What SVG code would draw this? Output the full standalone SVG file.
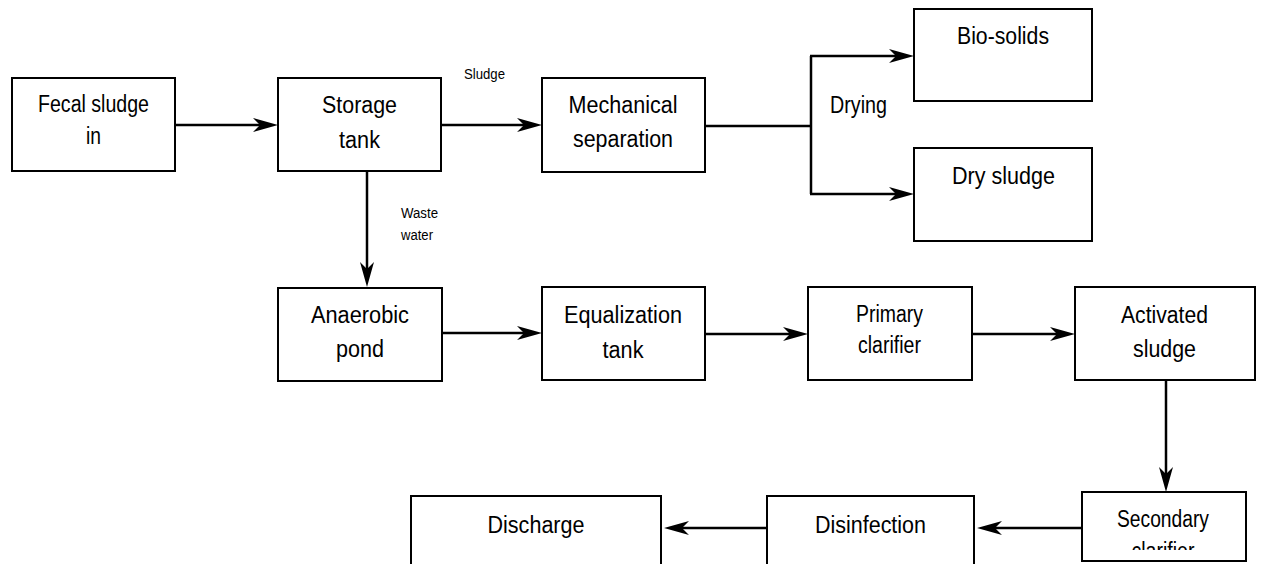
<svg xmlns="http://www.w3.org/2000/svg" width="1261" height="564" viewBox="0 0 1261 564">
  <style>
    .box { fill: #ffffff; stroke: #000000; stroke-width: 2; }
    .lbl { font-family: "Liberation Sans", Arial, sans-serif; font-size: 23px; fill: #000000; text-anchor: middle; }
    .sm { font-family: "Liberation Sans", Arial, sans-serif; font-size: 14px; fill: #000000; }
    .wire { fill: none; stroke: #000000; stroke-width: 2.5; }
  </style>
  <defs>
    <marker id="ah" viewBox="0 0 26 16" markerWidth="26" markerHeight="16" refX="15" refY="8" orient="auto" markerUnits="userSpaceOnUse">
      <path d="M0,1 L25,8 L0,15 L7,8 Z" fill="#000000"/>
    </marker>
    <clipPath id="clipSecondary">
      <rect x="1082" y="492" width="164" height="58"/>
    </clipPath>
  </defs>

  <rect width="1261" height="564" fill="#ffffff"/>

  <g id="connectors">
    <line class="wire" x1="175" y1="125" x2="268" y2="125" marker-end="url(#ah)"/>
    <line class="wire" x1="441" y1="125" x2="532" y2="125" marker-end="url(#ah)"/>
    <polyline class="wire" points="705,126 811,126"/>
    <line class="wire" x1="811" y1="56" x2="811" y2="194"/>
    <line class="wire" x1="810" y1="56" x2="904" y2="56" marker-end="url(#ah)"/>
    <line class="wire" x1="810" y1="194" x2="904" y2="194" marker-end="url(#ah)"/>
    <line class="wire" x1="367" y1="171" x2="367" y2="277" marker-end="url(#ah)"/>
    <line class="wire" x1="442" y1="333" x2="532" y2="333" marker-end="url(#ah)"/>
    <line class="wire" x1="705" y1="334" x2="798" y2="334" marker-end="url(#ah)"/>
    <line class="wire" x1="972" y1="334" x2="1065" y2="334" marker-end="url(#ah)"/>
    <line class="wire" x1="1166" y1="380" x2="1166" y2="482" marker-end="url(#ah)"/>
    <line class="wire" x1="1082" y1="528" x2="987" y2="528" marker-end="url(#ah)"/>
    <line class="wire" x1="767" y1="528" x2="674" y2="528" marker-end="url(#ah)"/>
    <text class="sm" x="464" y="79" textLength="41" lengthAdjust="spacingAndGlyphs">Sludge</text>
    <text class="sm" x="401" y="218" textLength="37" lengthAdjust="spacingAndGlyphs">Waste</text>
    <text class="sm" x="401" y="240" textLength="32" lengthAdjust="spacingAndGlyphs">water</text>
    <text class="lbl" x="830" y="113" style="text-anchor:start" textLength="57" lengthAdjust="spacingAndGlyphs">Drying</text>
  </g>

  <g id="fecal-sludge-in">
    <rect class="box" x="12" y="78" width="163" height="93"/>
    <text class="lbl" x="93.5" y="112" textLength="111" lengthAdjust="spacingAndGlyphs">Fecal sludge</text>
    <text class="lbl" x="93.5" y="144" textLength="15" lengthAdjust="spacingAndGlyphs">in</text>
  </g>

  <g id="storage-tank">
    <rect class="box" x="278" y="78" width="163" height="93"/>
    <text class="lbl" x="359.5" y="113" textLength="75" lengthAdjust="spacingAndGlyphs">Storage</text>
    <text class="lbl" x="359.5" y="148" textLength="41" lengthAdjust="spacingAndGlyphs">tank</text>
  </g>

  <g id="mechanical-separation">
    <rect class="box" x="542" y="78" width="163" height="94"/>
    <text class="lbl" x="623" y="113" textLength="109" lengthAdjust="spacingAndGlyphs">Mechanical</text>
    <text class="lbl" x="623" y="147" textLength="100" lengthAdjust="spacingAndGlyphs">separation</text>
  </g>

  <g id="bio-solids">
    <rect class="box" x="914" y="9" width="178" height="92"/>
    <text class="lbl" x="1003" y="44" textLength="92" lengthAdjust="spacingAndGlyphs">Bio-solids</text>
  </g>

  <g id="dry-sludge">
    <rect class="box" x="914" y="148" width="178" height="93"/>
    <text class="lbl" x="1003.5" y="184" textLength="103" lengthAdjust="spacingAndGlyphs">Dry sludge</text>
  </g>

  <g id="anaerobic-pond">
    <rect class="box" x="278" y="288" width="164" height="93"/>
    <text class="lbl" x="360" y="323" textLength="98" lengthAdjust="spacingAndGlyphs">Anaerobic</text>
    <text class="lbl" x="360" y="357" textLength="48" lengthAdjust="spacingAndGlyphs">pond</text>
  </g>

  <g id="equalization-tank">
    <rect class="box" x="542" y="287" width="163" height="93"/>
    <text class="lbl" x="623" y="323" textLength="118" lengthAdjust="spacingAndGlyphs">Equalization</text>
    <text class="lbl" x="623" y="358" textLength="41" lengthAdjust="spacingAndGlyphs">tank</text>
  </g>

  <g id="primary-clarifier">
    <rect class="box" x="808" y="287" width="164" height="93"/>
    <text class="lbl" x="889.5" y="322" textLength="67" lengthAdjust="spacingAndGlyphs">Primary</text>
    <text class="lbl" x="889.5" y="353" textLength="63" lengthAdjust="spacingAndGlyphs">clarifier</text>
  </g>

  <g id="activated-sludge">
    <rect class="box" x="1075" y="287" width="180" height="93"/>
    <text class="lbl" x="1164.5" y="323" textLength="87" lengthAdjust="spacingAndGlyphs">Activated</text>
    <text class="lbl" x="1164.5" y="357" textLength="63" lengthAdjust="spacingAndGlyphs">sludge</text>
  </g>

  <g id="secondary-clarifier">
    <rect class="box" x="1082" y="492" width="164" height="69"/>
    <text class="lbl" x="1163" y="527" textLength="92" lengthAdjust="spacingAndGlyphs">Secondary</text>
    <text class="lbl" x="1163" y="559" textLength="63" lengthAdjust="spacingAndGlyphs" clip-path="url(#clipSecondary)">clarifier</text>
  </g>

  <g id="disinfection">
    <rect class="box" x="767" y="496" width="207" height="80"/>
    <text class="lbl" x="870.5" y="533" textLength="111" lengthAdjust="spacingAndGlyphs">Disinfection</text>
  </g>

  <g id="discharge">
    <rect class="box" x="411" y="496" width="250" height="80"/>
    <text class="lbl" x="536" y="533" textLength="97" lengthAdjust="spacingAndGlyphs">Discharge</text>
  </g>
</svg>
